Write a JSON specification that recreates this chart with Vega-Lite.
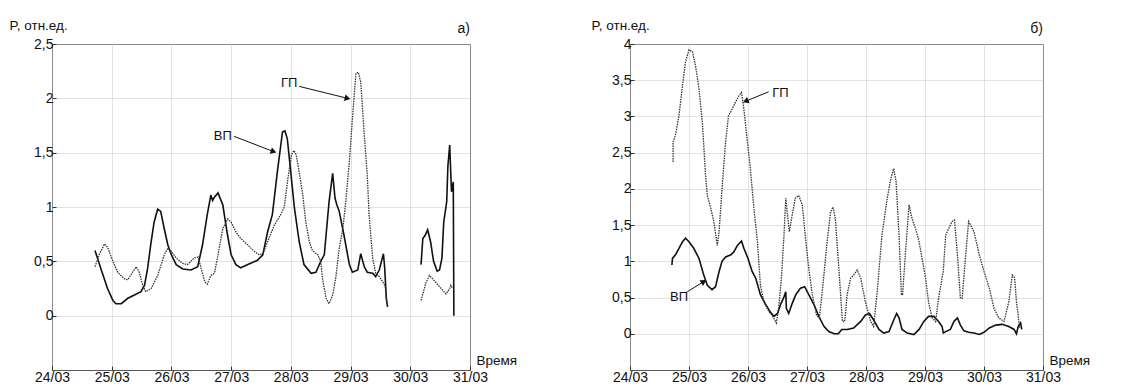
{
  "$schema": "https://vega.github.io/schema/vega-lite/v6.json",
  "padding": {"left": 8, "top": 17, "right": 5, "bottom": 0},
  "spacing": 72,
  "config": {
    "view": {"stroke": "#555", "strokeWidth": 1},
    "font": "Liberation Sans",
    "axis": {"labelFont": "Liberation Sans", "labelFontSize": 14, "labelColor": "#111", "labelFlush": false, "labelOverlap": false, "titleFont": "Liberation Sans", "titleFontSize": 13.5, "titleFontWeight": "normal", "titleColor": "#111", "gridColor": "#c4c4c4", "gridWidth": 1, "gridDash": [1, 1], "domain": false, "ticks": true, "tickSize": -4, "tickColor": "#333", "tickWidth": 1},
    "text": {"font": "Liberation Sans", "fontSize": 13, "color": "#111"}
  },
  "datasets": {
    "aV": [
      {"g":1,"d":24.72,"p":0.60},{"g":1,"d":24.82,"p":0.43},{"g":1,"d":24.93,"p":0.25},{"g":1,"d":25.02,"p":0.14},{"g":1,"d":25.07,"p":0.11},{"g":1,"d":25.16,"p":0.11},{"g":1,"d":25.27,"p":0.16},{"g":1,"d":25.38,"p":0.19},{"g":1,"d":25.49,"p":0.22},{"g":1,"d":25.55,"p":0.28},{"g":1,"d":25.60,"p":0.43},{"g":1,"d":25.66,"p":0.68},{"g":1,"d":25.71,"p":0.86},{"g":1,"d":25.77,"p":0.98},{"g":1,"d":25.82,"p":0.96},{"g":1,"d":25.88,"p":0.80},{"g":1,"d":25.94,"p":0.65},{"g":1,"d":26.00,"p":0.56},{"g":1,"d":26.08,"p":0.47},{"g":1,"d":26.19,"p":0.43},{"g":1,"d":26.33,"p":0.42},{"g":1,"d":26.44,"p":0.45},{"g":1,"d":26.52,"p":0.65},{"g":1,"d":26.60,"p":0.93},{"g":1,"d":26.66,"p":1.11},{"g":1,"d":26.69,"p":1.06},{"g":1,"d":26.72,"p":1.09},{"g":1,"d":26.78,"p":1.13},{"g":1,"d":26.86,"p":1.02},{"g":1,"d":26.94,"p":0.74},{"g":1,"d":27.00,"p":0.56},{"g":1,"d":27.08,"p":0.47},{"g":1,"d":27.16,"p":0.44},{"g":1,"d":27.28,"p":0.47},{"g":1,"d":27.44,"p":0.51},{"g":1,"d":27.53,"p":0.56},{"g":1,"d":27.61,"p":0.77},{"g":1,"d":27.69,"p":0.93},{"g":1,"d":27.78,"p":1.35},{"g":1,"d":27.86,"p":1.69},{"g":1,"d":27.90,"p":1.70},{"g":1,"d":27.94,"p":1.63},{"g":1,"d":27.98,"p":1.42},{"g":1,"d":28.06,"p":0.99},{"g":1,"d":28.14,"p":0.68},{"g":1,"d":28.22,"p":0.47},{"g":1,"d":28.34,"p":0.39},{"g":1,"d":28.42,"p":0.40},{"g":1,"d":28.50,"p":0.50},{"g":1,"d":28.56,"p":0.56},{"g":1,"d":28.64,"p":1.05},{"g":1,"d":28.70,"p":1.31},{"g":1,"d":28.74,"p":1.08},{"g":1,"d":28.77,"p":1.02},{"g":1,"d":28.81,"p":0.96},{"g":1,"d":28.89,"p":0.74},{"g":1,"d":28.98,"p":0.47},{"g":1,"d":29.03,"p":0.40},{"g":1,"d":29.12,"p":0.42},{"g":1,"d":29.17,"p":0.57},{"g":1,"d":29.23,"p":0.45},{"g":1,"d":29.28,"p":0.40},{"g":1,"d":29.37,"p":0.39},{"g":1,"d":29.42,"p":0.36},{"g":1,"d":29.48,"p":0.42},{"g":1,"d":29.55,"p":0.57},{"g":1,"d":29.57,"p":0.45},{"g":1,"d":29.60,"p":0.15},{"g":1,"d":29.62,"p":0.08},
      {"g":2,"d":30.18,"p":0.47},{"g":2,"d":30.21,"p":0.71},{"g":2,"d":30.25,"p":0.74},{"g":2,"d":30.29,"p":0.79},{"g":2,"d":30.34,"p":0.68},{"g":2,"d":30.39,"p":0.50},{"g":2,"d":30.45,"p":0.41},{"g":2,"d":30.49,"p":0.42},{"g":2,"d":30.53,"p":0.53},{"g":2,"d":30.56,"p":0.86},{"g":2,"d":30.61,"p":1.05},{"g":2,"d":30.63,"p":1.38},{"g":2,"d":30.66,"p":1.57},{"g":2,"d":30.69,"p":1.14},{"g":2,"d":30.72,"p":1.23},{"g":2,"d":30.73,"p":0.0}
    ],
    "aG": [
      {"g":1,"d":24.72,"p":0.45},{"g":1,"d":24.79,"p":0.56},{"g":1,"d":24.88,"p":0.66},{"g":1,"d":24.93,"p":0.63},{"g":1,"d":25.02,"p":0.50},{"g":1,"d":25.10,"p":0.40},{"g":1,"d":25.21,"p":0.34},{"g":1,"d":25.27,"p":0.33},{"g":1,"d":25.35,"p":0.40},{"g":1,"d":25.41,"p":0.45},{"g":1,"d":25.46,"p":0.40},{"g":1,"d":25.52,"p":0.28},{"g":1,"d":25.57,"p":0.22},{"g":1,"d":25.66,"p":0.25},{"g":1,"d":25.77,"p":0.37},{"g":1,"d":25.88,"p":0.56},{"g":1,"d":25.94,"p":0.62},{"g":1,"d":26.00,"p":0.59},{"g":1,"d":26.08,"p":0.53},{"g":1,"d":26.19,"p":0.48},{"g":1,"d":26.27,"p":0.47},{"g":1,"d":26.38,"p":0.53},{"g":1,"d":26.45,"p":0.54},{"g":1,"d":26.49,"p":0.45},{"g":1,"d":26.56,"p":0.31},{"g":1,"d":26.60,"p":0.29},{"g":1,"d":26.66,"p":0.37},{"g":1,"d":26.72,"p":0.39},{"g":1,"d":26.77,"p":0.53},{"g":1,"d":26.86,"p":0.80},{"g":1,"d":26.94,"p":0.89},{"g":1,"d":27.00,"p":0.86},{"g":1,"d":27.08,"p":0.77},{"g":1,"d":27.16,"p":0.71},{"g":1,"d":27.28,"p":0.65},{"g":1,"d":27.39,"p":0.59},{"g":1,"d":27.47,"p":0.56},{"g":1,"d":27.53,"p":0.57},{"g":1,"d":27.61,"p":0.68},{"g":1,"d":27.72,"p":0.83},{"g":1,"d":27.83,"p":0.93},{"g":1,"d":27.89,"p":1.00},{"g":1,"d":27.95,"p":1.26},{"g":1,"d":28.01,"p":1.48},{"g":1,"d":28.05,"p":1.52},{"g":1,"d":28.09,"p":1.48},{"g":1,"d":28.14,"p":1.32},{"g":1,"d":28.20,"p":1.11},{"g":1,"d":28.25,"p":0.86},{"g":1,"d":28.31,"p":0.68},{"g":1,"d":28.36,"p":0.60},{"g":1,"d":28.45,"p":0.56},{"g":1,"d":28.50,"p":0.50},{"g":1,"d":28.53,"p":0.34},{"g":1,"d":28.59,"p":0.16},{"g":1,"d":28.64,"p":0.11},{"g":1,"d":28.70,"p":0.19},{"g":1,"d":28.75,"p":0.34},{"g":1,"d":28.81,"p":0.62},{"g":1,"d":28.87,"p":0.80},{"g":1,"d":28.92,"p":1.05},{"g":1,"d":28.98,"p":1.42},{"g":1,"d":29.04,"p":1.88},{"g":1,"d":29.09,"p":2.23},{"g":1,"d":29.13,"p":2.24},{"g":1,"d":29.17,"p":2.15},{"g":1,"d":29.23,"p":1.66},{"g":1,"d":29.28,"p":1.29},{"g":1,"d":29.31,"p":0.93},{"g":1,"d":29.37,"p":0.53},{"g":1,"d":29.42,"p":0.39},{"g":1,"d":29.48,"p":0.36},{"g":1,"d":29.54,"p":0.31},{"g":1,"d":29.58,"p":0.27},{"g":1,"d":29.61,"p":0.11},
      {"g":2,"d":30.18,"p":0.14},{"g":2,"d":30.26,"p":0.30},{"g":2,"d":30.32,"p":0.37},{"g":2,"d":30.39,"p":0.33},{"g":2,"d":30.50,"p":0.26},{"g":2,"d":30.60,"p":0.20},{"g":2,"d":30.66,"p":0.25},{"g":2,"d":30.68,"p":0.28},{"g":2,"d":30.71,"p":0.25}
    ],
    "bV": [
      {"d":24.71,"p":0.95},{"d":24.72,"p":1.04},{"d":24.77,"p":1.09},{"d":24.83,"p":1.18},{"d":24.89,"p":1.27},{"d":24.94,"p":1.32},{"d":25.00,"p":1.27},{"d":25.08,"p":1.18},{"d":25.17,"p":1.04},{"d":25.25,"p":0.81},{"d":25.31,"p":0.67},{"d":25.39,"p":0.61},{"d":25.45,"p":0.65},{"d":25.51,"p":0.86},{"d":25.56,"p":1.00},{"d":25.62,"p":1.06},{"d":25.71,"p":1.09},{"d":25.76,"p":1.13},{"d":25.82,"p":1.22},{"d":25.89,"p":1.28},{"d":25.93,"p":1.18},{"d":26.00,"p":1.04},{"d":26.07,"p":0.86},{"d":26.13,"p":0.77},{"d":26.21,"p":0.54},{"d":26.29,"p":0.42},{"d":26.37,"p":0.31},{"d":26.44,"p":0.24},{"d":26.50,"p":0.28},{"d":26.55,"p":0.40},{"d":26.61,"p":0.51},{"d":26.64,"p":0.58},{"d":26.65,"p":0.35},{"d":26.69,"p":0.28},{"d":26.75,"p":0.42},{"d":26.81,"p":0.54},{"d":26.89,"p":0.63},{"d":26.96,"p":0.65},{"d":27.03,"p":0.54},{"d":27.12,"p":0.40},{"d":27.20,"p":0.24},{"d":27.29,"p":0.10},{"d":27.37,"p":0.03},{"d":27.46,"p":0.0},{"d":27.53,"p":0.0},{"d":27.59,"p":0.06},{"d":27.68,"p":0.06},{"d":27.79,"p":0.08},{"d":27.91,"p":0.17},{"d":27.99,"p":0.26},{"d":28.06,"p":0.28},{"d":28.13,"p":0.19},{"d":28.22,"p":0.06},{"d":28.30,"p":0.01},{"d":28.39,"p":0.03},{"d":28.47,"p":0.19},{"d":28.52,"p":0.28},{"d":28.56,"p":0.22},{"d":28.61,"p":0.06},{"d":28.70,"p":0.01},{"d":28.81,"p":-0.01},{"d":28.90,"p":0.06},{"d":28.98,"p":0.17},{"d":29.06,"p":0.24},{"d":29.15,"p":0.24},{"d":29.23,"p":0.17},{"d":29.29,"p":0.10},{"d":29.31,"p":0.01},{"d":29.35,"p":0.03},{"d":29.43,"p":0.06},{"d":29.49,"p":0.17},{"d":29.55,"p":0.22},{"d":29.60,"p":0.12},{"d":29.66,"p":0.04},{"d":29.74,"p":0.02},{"d":29.83,"p":0.01},{"d":29.92,"p":-0.01},{"d":30.00,"p":0.02},{"d":30.09,"p":0.08},{"d":30.20,"p":0.12},{"d":30.31,"p":0.13},{"d":30.42,"p":0.10},{"d":30.51,"p":0.06},{"d":30.55,"p":0.0},{"d":30.58,"p":0.10},{"d":30.62,"p":0.15},{"d":30.64,"p":0.06}
    ],
    "bG": [
      {"d":24.73,"p":2.37},{"d":24.73,"p":2.65},{"d":24.77,"p":2.74},{"d":24.83,"p":3.01},{"d":24.89,"p":3.43},{"d":24.94,"p":3.75},{"d":25.00,"p":3.92},{"d":25.06,"p":3.89},{"d":25.11,"p":3.70},{"d":25.17,"p":3.38},{"d":25.23,"p":2.88},{"d":25.28,"p":2.19},{"d":25.31,"p":1.91},{"d":25.37,"p":1.73},{"d":25.42,"p":1.55},{"d":25.48,"p":1.22},{"d":25.51,"p":1.41},{"d":25.56,"p":2.00},{"d":25.62,"p":2.65},{"d":25.67,"p":3.01},{"d":25.73,"p":3.10},{"d":25.79,"p":3.20},{"d":25.85,"p":3.29},{"d":25.89,"p":3.33},{"d":25.93,"p":3.10},{"d":25.99,"p":2.65},{"d":26.04,"p":2.28},{"d":26.10,"p":1.73},{"d":26.16,"p":1.27},{"d":26.21,"p":0.67},{"d":26.27,"p":0.44},{"d":26.35,"p":0.31},{"d":26.42,"p":0.24},{"d":26.48,"p":0.15},{"d":26.52,"p":0.35},{"d":26.57,"p":0.81},{"d":26.61,"p":1.36},{"d":26.64,"p":1.87},{"d":26.67,"p":1.64},{"d":26.70,"p":1.41},{"d":26.75,"p":1.64},{"d":26.80,"p":1.87},{"d":26.86,"p":1.91},{"d":26.92,"p":1.78},{"d":26.97,"p":1.36},{"d":27.03,"p":0.90},{"d":27.09,"p":0.54},{"d":27.16,"p":0.26},{"d":27.21,"p":0.22},{"d":27.27,"p":0.67},{"d":27.34,"p":1.27},{"d":27.40,"p":1.68},{"d":27.44,"p":1.75},{"d":27.48,"p":1.59},{"d":27.54,"p":0.90},{"d":27.60,"p":0.17},{"d":27.64,"p":0.17},{"d":27.68,"p":0.54},{"d":27.74,"p":0.77},{"d":27.79,"p":0.81},{"d":27.85,"p":0.88},{"d":27.91,"p":0.77},{"d":27.99,"p":0.44},{"d":28.08,"p":0.17},{"d":28.13,"p":0.10},{"d":28.19,"p":0.58},{"d":28.27,"p":1.36},{"d":28.36,"p":1.87},{"d":28.42,"p":2.14},{"d":28.47,"p":2.28},{"d":28.51,"p":2.10},{"d":28.56,"p":1.36},{"d":28.60,"p":0.54},{"d":28.62,"p":0.54},{"d":28.67,"p":1.13},{"d":28.73,"p":1.78},{"d":28.78,"p":1.59},{"d":28.84,"p":1.45},{"d":28.90,"p":1.27},{"d":28.95,"p":1.04},{"d":29.01,"p":0.77},{"d":29.06,"p":0.44},{"d":29.12,"p":0.22},{"d":29.18,"p":0.17},{"d":29.23,"p":0.49},{"d":29.31,"p":0.86},{"d":29.35,"p":1.36},{"d":29.40,"p":1.45},{"d":29.46,"p":1.55},{"d":29.50,"p":1.57},{"d":29.55,"p":1.09},{"d":29.60,"p":0.49},{"d":29.63,"p":0.49},{"d":29.69,"p":1.09},{"d":29.74,"p":1.55},{"d":29.83,"p":1.41},{"d":29.92,"p":1.09},{"d":30.00,"p":0.86},{"d":30.09,"p":0.63},{"d":30.17,"p":0.35},{"d":30.25,"p":0.22},{"d":30.34,"p":0.17},{"d":30.42,"p":0.44},{"d":30.48,"p":0.81},{"d":30.52,"p":0.77},{"d":30.55,"p":0.44},{"d":30.58,"p":0.26},{"d":30.60,"p":0.08}
    ],
    "aLab": [{"label":"ГП","d":27.97,"p":2.14},{"label":"ВП","d":26.86,"p":1.65}],
    "aArr": [{"label":"ГП","d":28.14,"p":2.11,"d2":28.95,"p2":2.0},{"label":"ВП","d":27.05,"p":1.65,"d2":27.71,"p2":1.51}],
    "aTag": [{"label":"а)","d":31,"p":2.6}],
    "bLab": [{"label":"ГП","d":26.55,"p":3.33},{"label":"ВП","d":24.83,"p":0.51}],
    "bArr": [{"label":"ГП","d":26.35,"p":3.34,"d2":25.96,"p2":3.21},{"label":"ВП","d":24.97,"p":0.58,"d2":25.25,"p2":0.72}],
    "bTag": [{"label":"б)","d":31,"p":4.148}]
  },
  "hconcat": [
    {
      "width": 418,
      "height": 326,
      "layer": [
        {
          "data": {"name": "aV"},
          "mark": {"type": "line", "color": "#111", "strokeWidth": 1.6},
          "encoding": {
            "x": {"field": "d", "type": "quantitative", "scale": {"domain": [24, 31], "nice": false, "zero": false},
                  "axis": {"values": [24,25,26,27,28,29,30,31], "labelExpr": "datum.value + '/03'", "labelPadding": 4, "title": "Время", "titleX": 424, "titleY": -6, "titleAlign": "left", "titleBaseline": "alphabetic", "titleAnchor": null}},
            "y": {"field": "p", "type": "quantitative", "scale": {"domain": [-0.5, 2.5], "nice": false, "zero": false},
                  "axis": {"values": [0,0.5,1,1.5,2,2.5], "format": "~g", "labelExpr": "replace(datum.label, '.', ',')", "labelPadding": 3, "title": "P, отн.ед.", "titleAngle": 0, "titleX": -43, "titleY": -15, "titleAlign": "left", "titleBaseline": "alphabetic"}},
            "detail": {"field": "g"}
          }
        },
        {
          "data": {"name": "aG"},
          "mark": {"type": "line", "color": "#333", "strokeWidth": 1.3, "strokeDash": [1.5, 1]},
          "encoding": {"x": {"field": "d", "type": "quantitative"}, "y": {"field": "p", "type": "quantitative"}, "detail": {"field": "g"}}
        },
        {
          "data": {"name": "aArr"},
          "mark": {"type": "rule", "color": "#111", "strokeWidth": 1},
          "encoding": {"x": {"field": "d", "type": "quantitative"}, "y": {"field": "p", "type": "quantitative"}, "x2": {"field": "d2"}, "y2": {"field": "p2"}}
        },
        {
          "data": {"name": "aArr"},
          "transform": [{"filter": "datum.label == 'ГП'"}],
          "mark": {"type": "point", "shape": "triangle-right", "filled": true, "color": "#111", "size": 45, "angle": 14, "opacity": 1},
          "encoding": {"x": {"field": "d2", "type": "quantitative"}, "y": {"field": "p2", "type": "quantitative"}}
        },
        {
          "data": {"name": "aArr"},
          "transform": [{"filter": "datum.label == 'ВП'"}],
          "mark": {"type": "point", "shape": "triangle-right", "filled": true, "color": "#111", "size": 45, "angle": 21, "opacity": 1},
          "encoding": {"x": {"field": "d2", "type": "quantitative"}, "y": {"field": "p2", "type": "quantitative"}}
        },
        {
          "data": {"name": "aLab"},
          "mark": {"type": "text", "fontSize": 13},
          "encoding": {"x": {"field": "d", "type": "quantitative"}, "y": {"field": "p", "type": "quantitative"}, "text": {"field": "label"}}
        },
        {
          "data": {"name": "aTag"},
          "mark": {"type": "text", "fontSize": 14, "align": "right", "baseline": "alphabetic"},
          "encoding": {"x": {"field": "d", "type": "quantitative"}, "y": {"field": "p", "type": "quantitative"}, "text": {"field": "label"}}
        }
      ]
    },
    {
      "width": 413,
      "height": 326,
      "layer": [
        {
          "data": {"name": "bV"},
          "mark": {"type": "line", "color": "#111", "strokeWidth": 1.6},
          "encoding": {
            "x": {"field": "d", "type": "quantitative", "scale": {"domain": [24, 31], "nice": false, "zero": false},
                  "axis": {"values": [24,25,26,27,28,29,30,31], "labelExpr": "datum.value + '/03'", "labelPadding": 4, "title": "Время", "titleX": 419, "titleY": -6, "titleAlign": "left", "titleBaseline": "alphabetic", "titleAnchor": null}},
            "y": {"field": "p", "type": "quantitative", "scale": {"domain": [-0.5, 4], "nice": false, "zero": false},
                  "axis": {"values": [0,0.5,1,1.5,2,2.5,3,3.5,4], "format": "~g", "labelExpr": "replace(datum.label, '.', ',')", "labelPadding": 3, "title": "P, отн.ед.", "titleAngle": 0, "titleX": -39, "titleY": -15, "titleAlign": "left", "titleBaseline": "alphabetic"}}
          }
        },
        {
          "data": {"name": "bG"},
          "mark": {"type": "line", "color": "#333", "strokeWidth": 1.3, "strokeDash": [1.5, 1]},
          "encoding": {"x": {"field": "d", "type": "quantitative"}, "y": {"field": "p", "type": "quantitative"}}
        },
        {
          "data": {"name": "bArr"},
          "mark": {"type": "rule", "color": "#111", "strokeWidth": 1},
          "encoding": {"x": {"field": "d", "type": "quantitative"}, "y": {"field": "p", "type": "quantitative"}, "x2": {"field": "d2"}, "y2": {"field": "p2"}}
        },
        {
          "data": {"name": "bArr"},
          "transform": [{"filter": "datum.label == 'ГП'"}],
          "mark": {"type": "point", "shape": "triangle-left", "filled": true, "color": "#111", "size": 45, "angle": 338, "opacity": 1},
          "encoding": {"x": {"field": "d2", "type": "quantitative"}, "y": {"field": "p2", "type": "quantitative"}}
        },
        {
          "data": {"name": "bArr"},
          "transform": [{"filter": "datum.label == 'ВП'"}],
          "mark": {"type": "point", "shape": "triangle-right", "filled": true, "color": "#111", "size": 45, "angle": 328, "opacity": 1},
          "encoding": {"x": {"field": "d2", "type": "quantitative"}, "y": {"field": "p2", "type": "quantitative"}}
        },
        {
          "data": {"name": "bLab"},
          "mark": {"type": "text", "fontSize": 13},
          "encoding": {"x": {"field": "d", "type": "quantitative"}, "y": {"field": "p", "type": "quantitative"}, "text": {"field": "label"}}
        },
        {
          "data": {"name": "bTag"},
          "mark": {"type": "text", "fontSize": 14, "align": "right", "baseline": "alphabetic"},
          "encoding": {"x": {"field": "d", "type": "quantitative"}, "y": {"field": "p", "type": "quantitative"}, "text": {"field": "label"}}
        }
      ]
    }
  ]
}
